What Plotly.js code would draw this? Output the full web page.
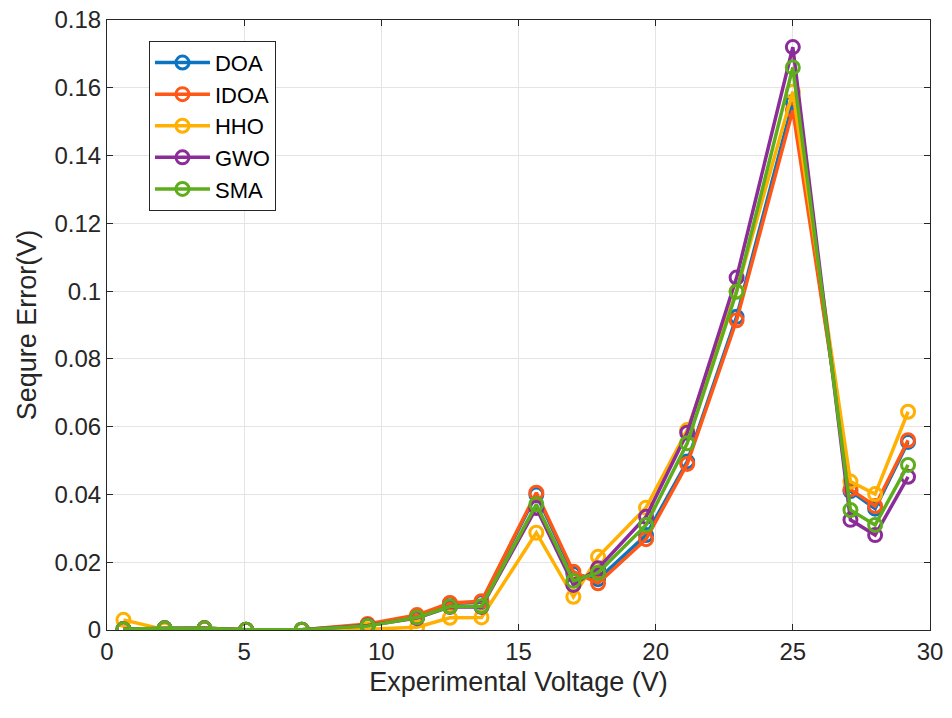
<!DOCTYPE html>
<html>
<head>
<meta charset="utf-8">
<script src="https://cdn.plot.ly/plotly-3.0.1.min.js"></script>
<style>
  html, body { margin: 0; padding: 0; background: #fff; }
  #chart { width: 952px; height: 718px; }
</style>
</head>
<body>
<div id="chart"></div>
<script>
const voltage = [0.6, 2.1, 3.55, 5.07, 7.1, 9.5, 11.3, 12.5, 13.65, 15.65, 17.0, 17.9, 19.65, 21.15, 22.95, 25.0, 27.1, 28.0, 29.2]

const doa  = [0.0003, 0.0005, 0.0005, 0.0001, 0.0001, 0.0015, 0.0040, 0.0078, 0.0082, 0.0400, 0.0165, 0.0150, 0.0280, 0.0497, 0.0924, 0.1558, 0.0410, 0.0358, 0.0555]
const idoa = [0.0003, 0.0005, 0.0005, 0.0001, 0.0001, 0.0018, 0.0044, 0.0080, 0.0085, 0.0405, 0.0172, 0.0138, 0.0268, 0.0490, 0.0914, 0.1534, 0.0415, 0.0366, 0.0560]
const hho  = [0.0030, 0.0001, 0.0004, 0.0001, 0.0000, 0.0002, 0.0008, 0.0036, 0.0037, 0.0287, 0.0098, 0.0216, 0.0361, 0.0590, 0.1000, 0.1588, 0.0438, 0.0401, 0.0644]
const gwo  = [0.0002, 0.0005, 0.0005, 0.0001, 0.0001, 0.0013, 0.0035, 0.0068, 0.0068, 0.0360, 0.0133, 0.0182, 0.0334, 0.0582, 0.1040, 0.1720, 0.0325, 0.0280, 0.0452]
const sma  = [0.0002, 0.0005, 0.0005, 0.0001, 0.0001, 0.0012, 0.0037, 0.0069, 0.0070, 0.0371, 0.0145, 0.0169, 0.0310, 0.0551, 0.0998, 0.1660, 0.0354, 0.0310, 0.0487]

const seriesNames = ['DOA', 'IDOA', 'HHO', 'GWO', 'SMA']
const seriesColors = ['#0a74c2', '#ff5716', '#ffb000', '#8b2c98', '#5ead1c']

const xTickVals = [0, 5, 10, 15, 20, 25, 30]
const yTickVals = [0, 0.02, 0.04, 0.06, 0.08, 0.1, 0.12, 0.14, 0.16, 0.18]
const yTickText = ['0', '0.02', '0.04', '0.06', '0.08', '0.1', '0.12', '0.14', '0.16', '0.18']

const allY = [doa, idoa, hho, gwo, sma]
const data = allY.map((y, i) => ({
  x: voltage,
  y: y,
  mode: 'lines+markers',
  name: seriesNames[i],
  line: { color: seriesColors[i], width: 3.5 },
  marker: { symbol: 'circle-open', size: 13, color: seriesColors[i], line: { width: 3, color: seriesColors[i] } },
}))

const axisCommon = {
  showline: true,
  mirror: 'ticks',
  linecolor: '#262626',
  linewidth: 1,
  ticks: 'inside',
  ticklen: 6,
  tickcolor: '#262626',
  showgrid: true,
  gridcolor: '#e4e4e4',
  gridwidth: 1,
  zeroline: false,
  tickfont: { size: 24, color: '#262626' },
}

const layout = {
  width: 952,
  height: 718,
  font: { family: 'Liberation Sans, Arial, sans-serif', color: '#262626' },
  paper_bgcolor: '#ffffff',
  plot_bgcolor: '#ffffff',
  margin: { l: 107, r: 22, t: 20, b: 88 },
  showlegend: true,
  legend: {
    x: 0.051, y: 0.966, xanchor: 'left', yanchor: 'top',
    bgcolor: '#ffffff',
    bordercolor: '#262626',
    borderwidth: 1,
    font: { size: 22, color: '#000000' },
    itemwidth: 55,
    tracegroupgap: 0,
  },
  xaxis: {
    ...axisCommon,
    range: [0, 30],
    tickvals: xTickVals,
    title: { text: 'Experimental Voltage (V)', font: { size: 27, color: '#262626' }, standoff: 8 },
  },
  yaxis: {
    ...axisCommon,
    range: [0, 0.18],
    tickvals: yTickVals,
    ticktext: yTickText,
    title: { text: 'Sequre Error(V)', font: { size: 27, color: '#262626' }, standoff: 10 },
  },
}

Plotly.newPlot('chart', data, layout, { displayModeBar: false, staticPlot: true })
</script>
</body>
</html>
